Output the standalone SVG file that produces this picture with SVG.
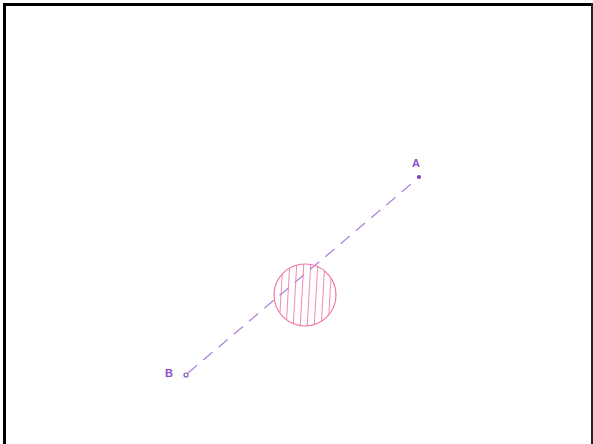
<svg xmlns="http://www.w3.org/2000/svg" width="593" height="444" viewBox="0 0 593 444">
<style>
.lbl{font-family:"Liberation Sans",sans-serif;font-size:11px;font-weight:bold;fill:#8a4fc7}
.hatch{stroke:#ec6f9c;stroke-width:1;opacity:0.8}
</style>
<defs>
<clipPath id="cc"><circle cx="305" cy="295" r="31"/></clipPath>
</defs>
<rect width="593" height="444" fill="#ffffff"/>
<g id="frame">
<rect x="3" y="3" width="3" height="441" fill="#000"/>
<rect x="3" y="3" width="590" height="3" fill="#000"/>
<rect x="591" y="3" width="2" height="441" fill="#222"/>
</g>
<g id="connectors">
<line x1="188" y1="373" x2="417" y2="179" stroke="#b384dc" stroke-width="1.3" stroke-dasharray="12 8"/>
</g>
<g id="circle">
<circle cx="305" cy="295" r="31" fill="none" stroke="#f07aa8" stroke-width="1.2"/>
<g clip-path="url(#cc)" class="hatch">
<line x1="279" y1="330" x2="283" y2="260"/>
<line x1="286" y1="330" x2="290" y2="260"/>
<line x1="293" y1="330" x2="297" y2="260"/>
<line x1="300" y1="330" x2="304" y2="260"/>
<line x1="307" y1="330" x2="311" y2="260"/>
<line x1="314" y1="330" x2="318" y2="260"/>
<line x1="321" y1="330" x2="325" y2="260"/>
<line x1="328" y1="330" x2="332" y2="260"/>
</g>
</g>
<g id="nodeA">
<circle cx="419" cy="177" r="2" fill="#7a3fb5"/>
<text class="lbl" x="412" y="167">A</text>
</g>
<g id="nodeB">
<circle cx="186" cy="375" r="2" fill="none" stroke="#8a4fc7" stroke-width="1.2"/>
<text class="lbl" x="165" y="377">B</text>
</g>
</svg>
